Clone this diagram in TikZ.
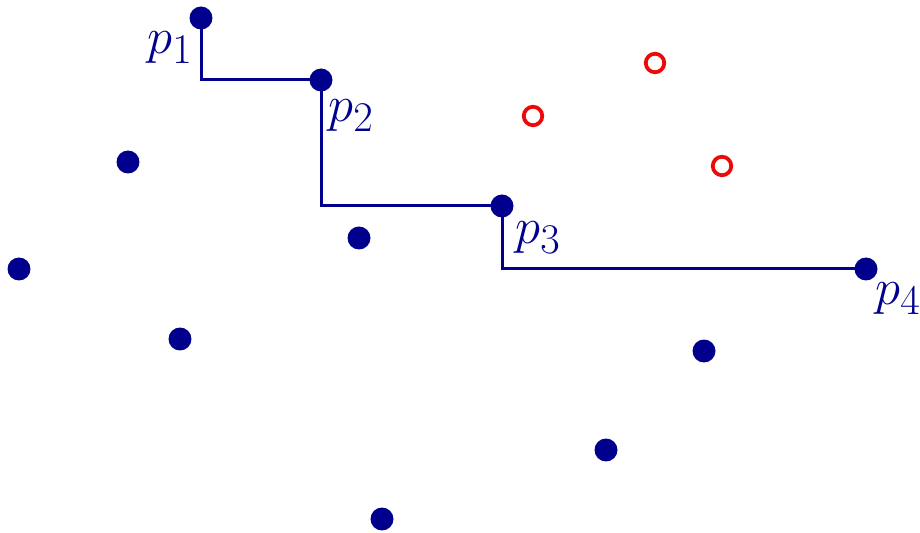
\documentclass[tikz,border=0pt]{standalone}
\usetikzlibrary{backgrounds}
\definecolor{dotblue}{RGB}{0,0,140}
\definecolor{ringred}{RGB}{235,10,10}
% point labels: 24.88pt math, enlarged a little
\newcommand{\ptlabel}[1]{\scalebox{1.16}{$p_{#1}$}}
\begin{document}
\begin{tikzpicture}[x=0.02cm,y=-0.02cm,
  pt/.style={circle,fill=dotblue,inner sep=0pt,minimum size=0.46cm},
  ring/.style={circle,draw=ringred,line width=0.075cm,inner sep=0pt,minimum size=0.37cm},
  lbl/.style={text=dotblue,inner sep=0pt,anchor=base west,font=\fontsize{24.88}{30}\selectfont},
  chain/.style={draw=dotblue,line width=0.06cm}]
  \useasboundingbox (0,0) rectangle (920,533);
  % points of the staircase
  \node[pt] (p1) at (201,18) {};
  \node[pt] (p2) at (321,80) {};
  \node[pt] (p3) at (502,206) {};
  \node[pt] (p4) at (866,269) {};
  % remaining points
  \node[pt] (a) at (128,162) {};
  \node[pt] (b) at (359,238) {};
  \node[pt] (c) at (19,269) {};
  \node[pt] (d) at (180,339) {};
  \node[pt] (e) at (704,351) {};
  \node[pt] (f) at (606,450) {};
  \node[pt] (g) at (382,519) {};
  % open points
  \node[ring] (r1) at (655,63) {};
  \node[ring] (r2) at (533,116) {};
  \node[ring] (r3) at (722,166) {};
  % labels
  \node[lbl] (l1) at (147,54) {\ptlabel{1}};
  \node[lbl] (l2) at (328,122) {\ptlabel{2}};
  \node[lbl] (l3) at (515,244) {\ptlabel{3}};
  \node[lbl] (l4) at (875,305) {\ptlabel{4}};
  % staircase
  \begin{scope}[on background layer]
    \draw[chain] (p1.center) |- (p2.center) |- (p3.center) |- (p4.center);
  \end{scope}
\end{tikzpicture}
\end{document}
